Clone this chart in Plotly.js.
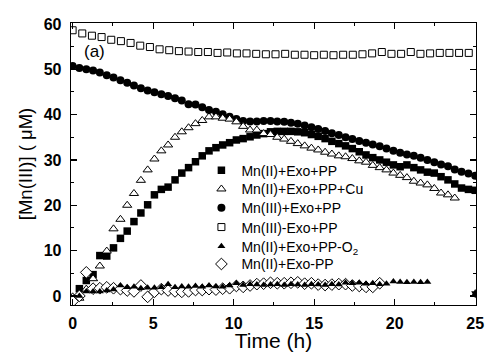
<!DOCTYPE html>
<html>
<head>
<meta charset="utf-8">
<script src="https://cdn.plot.ly/plotly-3.0.1.min.js"></script>
<style>html,body{margin:0;padding:0;background:#fff;}#plot{width:488px;height:352px;}</style>
</head>
<body>
<div id="plot"></div>
<script>
// Time grid (h) for the densely sampled series
const tDense = [0, 0.42, 0.85, 1.27, 1.69, 2.12, 2.54, 2.97, 3.39, 3.81, 4.24, 4.66, 5.08, 5.51, 5.93, 6.36, 6.78, 7.2, 7.63, 8.05, 8.47, 8.9, 9.32, 9.75, 10.17, 10.59, 11.02, 11.44, 11.86, 12.29, 12.71, 13.14, 13.56, 13.98, 14.41, 14.83, 15.25, 15.68, 16.1, 16.53, 16.95, 17.37, 17.8, 18.22, 18.64, 19.07, 19.49, 19.92, 20.34, 20.76, 21.19, 21.61, 22.03, 22.46, 22.88, 23.31, 23.73, 24.15, 24.58, 25.0];

// Mn(II)+Exo+PP (filled squares)
const mn2ExoPP = [-0.5, 1.6, 3.4, 4.7, 8.9, 8.8, 10.6, 12.7, 14.3, 16.4, 18.3, 20.1, 22.3, 23.5, 24.0, 25.6, 27.1, 28.3, 29.6, 30.9, 32.0, 32.7, 33.3, 33.8, 34.4, 34.7, 35.1, 35.5, 35.8, 36.2, 36.3, 36.3, 36.3, 36.2, 36.0, 35.6, 35.2, 34.7, 34.1, 33.6, 33.1, 32.5, 31.8, 31.1, 30.5, 30.0, 29.5, 28.9, 28.5, 28.9, 28.3, 27.8, 27.3, 27.1, 26.3, 25.6, 24.7, 23.8, 23.5, 23.3];

// Mn(II)+Exo+PP+Cu (open triangles)
const tCu = [0, 0.42, 0.85, 1.27, 1.69, 2.12, 2.54, 2.97, 3.39, 3.81, 4.24, 4.66, 5.08, 5.51, 5.93, 6.36, 6.78, 7.2, 7.63, 8.05, 8.47, 8.9, 9.32, 9.75, 10.17, 10.59, 11.02, 11.44, 11.86, 12.29, 12.71, 13.14, 13.56, 13.98, 14.41, 14.83, 15.25, 15.68, 16.1, 16.53, 16.95, 17.37, 17.8, 18.22, 18.64, 19.07, 19.49, 19.92, 20.34, 20.76, 21.19, 21.61, 22.03, 22.46, 22.88, 23.31, 23.73];
const mn2ExoPPCu = [-0.2, -0.5, 1.5, 3.8, 6.6, 9.9, 14.8, 16.9, 20.0, 22.6, 25.5, 27.8, 30.2, 32.0, 33.3, 35.0, 36.2, 37.1, 38.0, 38.7, 39.5, 39.5, 39.2, 39.0, 38.4, 37.4, 36.6, 36.6, 35.8, 35.6, 35.0, 34.6, 34.1, 33.6, 33.1, 32.6, 32.2, 31.7, 31.3, 30.9, 30.7, 30.3, 29.8, 29.5, 28.8, 28.3, 27.8, 27.1, 26.6, 26.1, 25.3, 24.9, 24.5, 23.7, 22.7, 22.3, 21.6];

// Mn(III)+Exo+PP (filled circles)
const mn3ExoPP = [50.7, 50.3, 50.0, 49.7, 49.3, 48.7, 48.2, 47.6, 47.0, 46.4, 45.8, 45.3, 44.9, 44.5, 44.1, 43.6, 43.1, 42.3, 42.2, 41.6, 41.0, 40.6, 40.1, 39.5, 39.0, 38.6, 38.5, 38.5, 38.6, 38.6, 38.5, 38.4, 38.2, 38.0, 37.6, 37.2, 36.8, 36.4, 35.9, 35.5, 35.0, 34.6, 34.2, 33.8, 33.4, 33.0, 32.5, 32.0, 31.6, 31.2, 30.9, 30.5, 30.0, 29.5, 29.0, 28.6, 27.9, 27.4, 27.0, 26.5];

// Mn(III)-Exo+PP (open squares)
const tNoExo = [0, 0.6, 1.2, 1.8, 2.4, 3.0, 3.6, 4.2, 4.8, 5.4, 6.0, 6.6, 7.2, 7.8, 8.4, 9.0, 9.6, 10.2, 10.8, 11.4, 12.0, 12.6, 13.2, 13.8, 14.4, 15.0, 15.6, 16.2, 16.8, 17.4, 18.0, 18.6, 19.2, 19.8, 20.4, 21.0, 21.6, 22.2, 22.8, 23.4, 24.0, 24.6];
const mn3NoExoPP = [58.6, 57.9, 57.4, 57.1, 56.5, 56.2, 55.8, 55.2, 54.9, 54.4, 54.2, 54.0, 53.9, 53.8, 53.8, 53.6, 53.7, 53.5, 53.5, 53.4, 53.3, 53.3, 53.4, 53.2, 53.2, 53.1, 53.2, 53.1, 53.2, 53.2, 53.3, 53.5, 53.8, 53.4, 53.4, 53.8, 53.4, 53.5, 53.6, 53.6, 53.6, 53.6];

// Mn(II)+Exo+PP-O2 (filled triangles)
const tO2 = [0.42, 0.85, 1.27, 1.69, 2.12, 2.54, 2.97, 3.39, 3.81, 4.24, 4.66, 5.08, 5.51, 5.93, 6.36, 6.78, 7.2, 7.63, 8.05, 8.47, 8.9, 9.32, 9.75, 10.17, 10.59, 11.02, 11.44, 11.86, 12.29, 12.71, 13.14, 13.56, 13.98, 14.41, 14.83, 15.25, 15.68, 16.1, 16.53, 16.95, 17.37, 17.8, 18.22, 18.64, 19.07, 19.49, 19.92, 20.34, 20.76, 21.19, 21.61, 22.03, 25.0];
const mn2ExoPPnoO2 = [0.0, 1.0, 1.0, 1.0, 1.2, 1.4, 2.3, 1.9, 2.0, 1.7, 1.8, 1.8, 1.9, 2.6, 1.9, 2.1, 2.0, 2.2, 2.0, 2.3, 2.1, 2.0, 2.3, 2.8, 2.4, 2.6, 2.5, 2.4, 2.5, 2.6, 2.4, 2.6, 2.5, 2.4, 2.6, 2.5, 2.4, 2.6, 2.5, 2.9, 2.8, 2.9, 2.7, 2.8, 2.6, 2.7, 3.2, 3.1, 3.0, 3.1, 3.0, 3.1, 0.5];

// Mn(II)+Exo-PP (open diamonds)
const tNoPP = [0, 0.42, 0.85, 1.27, 1.69, 2.12, 2.54, 2.97, 3.39, 3.81, 4.24, 4.66, 5.08, 5.51, 5.93, 6.36, 6.78, 7.2, 7.63, 8.05, 8.47, 8.9, 9.32, 9.75, 10.17, 10.59, 11.02, 11.44, 11.86, 12.29, 12.71, 13.14, 13.56, 13.98, 14.41, 14.83, 15.25, 15.68, 16.1, 16.53, 16.95, 17.37, 17.8, 18.22, 18.64, 19.07];
const mn2ExoNoPP = [-1.2, 0.0, 5.2, 1.6, 1.7, 1.9, 1.7, 1.5, 1.2, 1.0, 2.3, -0.2, 0.9, 1.5, 1.2, 1.0, 0.9, 1.0, 1.3, 1.3, 1.5, 1.4, 1.6, 1.7, 2.2, 2.0, 2.3, 2.6, 2.7, 2.9, 2.8, 2.8, 2.9, 3.0, 2.7, 2.8, 2.5, 2.4, 2.5, 2.6, 2.6, 2.3, 2.2, 2.0, 2.0, 2.8];

const names = ["Mn(II)+Exo+PP", "Mn(II)+Exo+PP+Cu", "Mn(III)+Exo+PP", "Mn(III)-Exo+PP", "Mn(II)+Exo+PP-O<sub>2</sub>", "Mn(II)+Exo-PP"];

const F = "Liberation Sans, Arial, sans-serif";
const openM = (sym, sz) => ({symbol: sym, size: sz, color: "#ffffff", line: {color: "#000000", width: 1}});
const fillM = (sym, sz) => ({symbol: sym, size: sz, color: "#000000", line: {color: "#000000", width: 0}});

const o2Symbols = tO2.map((t, i) => i === tO2.length - 1 ? "hexagram" : "triangle-up");

const traces = [
  {x: tNoExo, y: mn3NoExoPP, name: names[3], mode: "markers", marker: openM("square", 7), legend: "legend4"},
  {x: tDense, y: mn3ExoPP, name: names[2], mode: "markers", marker: fillM("circle", 8), legend: "legend3"},
  {x: tDense, y: mn2ExoPP, name: names[0], mode: "markers", marker: fillM("square", 7.5), legend: "legend"},
  {x: tCu, y: mn2ExoPPCu, name: names[1], mode: "markers", marker: openM("triangle-up", 8), legend: "legend2"},
  {x: tNoPP, y: mn2ExoNoPP, name: names[5], mode: "markers", marker: openM("diamond", 9), legend: "legend6"},
  {x: tO2, y: mn2ExoPPnoO2, name: names[4], mode: "markers", marker: {symbol: o2Symbols, size: 7, color: "#000000", line: {width: 0}}, legend: "legend5"}
];

const axisCommon = {
  showline: true, linecolor: "#000", linewidth: 1.3, mirror: "ticks",
  ticks: "inside", ticklen: 6, tickwidth: 1.2, tickcolor: "#000",
  showgrid: false, zeroline: false,
  tickfont: {family: F, size: 16, color: "#000", weight: "bold"}
};

const legX = 0.322;
const rowY = [0.476, 0.410, 0.343, 0.275, 0.207, 0.144];
const mkLeg = (y) => ({x: legX, y: y, xanchor: "left", yanchor: "middle", bgcolor: "rgba(0,0,0,0)",
                       font: {family: F, size: 14, color: "#000"}, itemwidth: 30, borderwidth: 0});

const layout = {
  width: 488, height: 352,
  margin: {l: 71, r: 12, t: 23, b: 47},
  paper_bgcolor: "#fff", plot_bgcolor: "#fff",
  showlegend: true,
  legend: mkLeg(rowY[0]),
  legend2: mkLeg(rowY[1]),
  legend3: mkLeg(rowY[2]),
  legend4: mkLeg(rowY[3]),
  legend5: mkLeg(rowY[4]),
  legend6: mkLeg(rowY[5]),
  xaxis: Object.assign({}, axisCommon, {
    range: [-0.1, 25.05], dtick: 5, tick0: 0,
    minor: {dtick: 2.5, ticks: "inside", ticklen: 3, tickcolor: "#000", tickwidth: 1},
    ticklabelstandoff: 3,
    title: {text: "Time (h)", font: {family: F, size: 21, color: "#000"}, standoff: 3}
  }),
  yaxis: Object.assign({}, axisCommon, {
    range: [-2, 60.2], dtick: 10, tick0: 0,
    minor: {dtick: 5, ticks: "inside", ticklen: 3, tickcolor: "#000", tickwidth: 1},
    ticklabelstandoff: 5,
    title: {text: "[Mn(III)] ( μM)", font: {family: F, size: 18.5, color: "#000"}, standoff: 6}
  }),
  annotations: [{text: "(a)", xref: "paper", yref: "paper", x: 0.057, y: 0.9, xanchor: "center", yanchor: "middle",
                 showarrow: false, font: {family: F, size: 17, color: "#000"}}]
};

Plotly.newPlot("plot", traces, layout, {displayModeBar: false, staticPlot: true});
</script>
</body>
</html>
